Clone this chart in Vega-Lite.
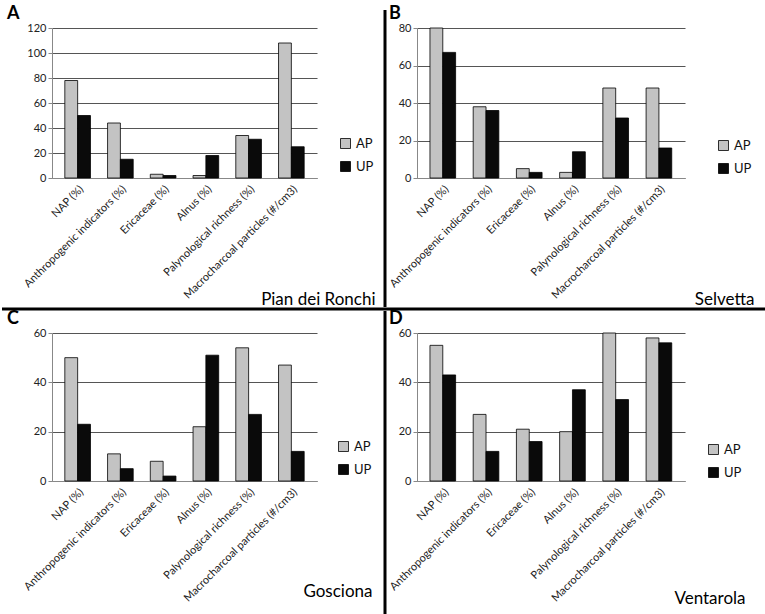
{
  "$schema": "https://vega.github.io/schema/vega-lite/v6.json",
  "background": "white",
  "padding": {"left": 0, "top": 5, "right": 0, "bottom": 0},
  "config": {
    "font": "Lato",
    "view": {"stroke": null},
    "axis": {"labelFont": "Lato", "labelFontSize": 11, "labelColor": "#222", "domainColor": "#888", "tickColor": "#888", "gridColor": "#555", "gridWidth": 1.2, "titleFont": "Lato", "titleFontSize": 17, "titleFontWeight": "normal", "titleColor": "black"},
    "axisX": {"labelFontSize": 11, "labelAngle": -45, "ticks": false, "labelPadding": 5},
    "legend": {"orient": "none", "title": null, "symbolType": "square", "symbolSize": 100, "symbolStrokeColor": "black", "symbolStrokeWidth": 0.8, "labelFont": "Lato", "labelFontSize": 13, "labelColor": "#111", "rowPadding": 8},
    "title": {"fontSize": 18, "fontWeight": "bold", "anchor": "start", "frame": "group", "color": "black", "offset": -1},
    "bar": {"stroke": "black", "strokeWidth": 0.8},
    "point": {"size": 0, "opacity": 0}
  },
  "datasets": {
    "pollen": [
      {"site": "Pian dei Ronchi", "indicator": "NAP (%)", "phase": "AP", "value": 78},
      {"site": "Pian dei Ronchi", "indicator": "NAP (%)", "phase": "UP", "value": 50},
      {"site": "Pian dei Ronchi", "indicator": "Anthropogenic indicators (%)", "phase": "AP", "value": 44},
      {"site": "Pian dei Ronchi", "indicator": "Anthropogenic indicators (%)", "phase": "UP", "value": 15},
      {"site": "Pian dei Ronchi", "indicator": "Ericaceae (%)", "phase": "AP", "value": 3},
      {"site": "Pian dei Ronchi", "indicator": "Ericaceae (%)", "phase": "UP", "value": 2},
      {"site": "Pian dei Ronchi", "indicator": "Alnus (%)", "phase": "AP", "value": 2},
      {"site": "Pian dei Ronchi", "indicator": "Alnus (%)", "phase": "UP", "value": 18},
      {"site": "Pian dei Ronchi", "indicator": "Palynological richness (%)", "phase": "AP", "value": 34},
      {"site": "Pian dei Ronchi", "indicator": "Palynological richness (%)", "phase": "UP", "value": 31},
      {"site": "Pian dei Ronchi", "indicator": "Macrocharcoal particles (#/cm3)", "phase": "AP", "value": 108},
      {"site": "Pian dei Ronchi", "indicator": "Macrocharcoal particles (#/cm3)", "phase": "UP", "value": 25},
      {"site": "Selvetta", "indicator": "NAP (%)", "phase": "AP", "value": 80},
      {"site": "Selvetta", "indicator": "NAP (%)", "phase": "UP", "value": 67},
      {"site": "Selvetta", "indicator": "Anthropogenic indicators (%)", "phase": "AP", "value": 38},
      {"site": "Selvetta", "indicator": "Anthropogenic indicators (%)", "phase": "UP", "value": 36},
      {"site": "Selvetta", "indicator": "Ericaceae (%)", "phase": "AP", "value": 5},
      {"site": "Selvetta", "indicator": "Ericaceae (%)", "phase": "UP", "value": 3},
      {"site": "Selvetta", "indicator": "Alnus (%)", "phase": "AP", "value": 3},
      {"site": "Selvetta", "indicator": "Alnus (%)", "phase": "UP", "value": 14},
      {"site": "Selvetta", "indicator": "Palynological richness (%)", "phase": "AP", "value": 48},
      {"site": "Selvetta", "indicator": "Palynological richness (%)", "phase": "UP", "value": 32},
      {"site": "Selvetta", "indicator": "Macrocharcoal particles (#/cm3)", "phase": "AP", "value": 48},
      {"site": "Selvetta", "indicator": "Macrocharcoal particles (#/cm3)", "phase": "UP", "value": 16},
      {"site": "Gosciona", "indicator": "NAP (%)", "phase": "AP", "value": 50},
      {"site": "Gosciona", "indicator": "NAP (%)", "phase": "UP", "value": 23},
      {"site": "Gosciona", "indicator": "Anthropogenic indicators (%)", "phase": "AP", "value": 11},
      {"site": "Gosciona", "indicator": "Anthropogenic indicators (%)", "phase": "UP", "value": 5},
      {"site": "Gosciona", "indicator": "Ericaceae (%)", "phase": "AP", "value": 8},
      {"site": "Gosciona", "indicator": "Ericaceae (%)", "phase": "UP", "value": 2},
      {"site": "Gosciona", "indicator": "Alnus (%)", "phase": "AP", "value": 22},
      {"site": "Gosciona", "indicator": "Alnus (%)", "phase": "UP", "value": 51},
      {"site": "Gosciona", "indicator": "Palynological richness (%)", "phase": "AP", "value": 54},
      {"site": "Gosciona", "indicator": "Palynological richness (%)", "phase": "UP", "value": 27},
      {"site": "Gosciona", "indicator": "Macrocharcoal particles (#/cm3)", "phase": "AP", "value": 47},
      {"site": "Gosciona", "indicator": "Macrocharcoal particles (#/cm3)", "phase": "UP", "value": 12},
      {"site": "Ventarola", "indicator": "NAP (%)", "phase": "AP", "value": 55},
      {"site": "Ventarola", "indicator": "NAP (%)", "phase": "UP", "value": 43},
      {"site": "Ventarola", "indicator": "Anthropogenic indicators (%)", "phase": "AP", "value": 27},
      {"site": "Ventarola", "indicator": "Anthropogenic indicators (%)", "phase": "UP", "value": 12},
      {"site": "Ventarola", "indicator": "Ericaceae (%)", "phase": "AP", "value": 21},
      {"site": "Ventarola", "indicator": "Ericaceae (%)", "phase": "UP", "value": 16},
      {"site": "Ventarola", "indicator": "Alnus (%)", "phase": "AP", "value": 20},
      {"site": "Ventarola", "indicator": "Alnus (%)", "phase": "UP", "value": 37},
      {"site": "Ventarola", "indicator": "Palynological richness (%)", "phase": "AP", "value": 60},
      {"site": "Ventarola", "indicator": "Palynological richness (%)", "phase": "UP", "value": 33},
      {"site": "Ventarola", "indicator": "Macrocharcoal particles (#/cm3)", "phase": "AP", "value": 58},
      {"site": "Ventarola", "indicator": "Macrocharcoal particles (#/cm3)", "phase": "UP", "value": 56}
    ],
    "sep": [{"sep": "line"}]
  },
  "resolve": {"legend": {"color": "independent"}},
  "columns": 5,
  "spacing": 0,
  "bounds": "flush",
  "concat": [
    {"width": 1, "height": 1, "data": {"name": "sep"}, "mark": "point"},
    {"width": 1, "height": 1, "data": {"name": "sep"}, "mark": "point"},
    {"width": 1, "height": 1, "data": {"name": "sep"}, "mark": "point"},
    {"width": 64, "height": 18, "data": {"name": "sep"}, "mark": {"type": "rule", "strokeWidth": 3, "color": "black"}, "encoding": {"x": {"field": "sep", "type": "nominal", "axis": null}}},
    {"width": 1, "height": 1, "data": {"name": "sep"}, "mark": "point"},

    {"width": 1, "height": 1, "data": {"name": "sep"}, "mark": "point"},
    {
      "title": {"text": "A", "dx": -45},
      "width": 265, "height": 150,
      "data": {"name": "pollen"},
      "transform": [{"filter": "datum.site === 'Pian dei Ronchi'"}],
      "mark": "bar",
      "encoding": {
        "x": {"field": "indicator", "type": "nominal", "sort": null, "scale": {"paddingInner": 0.4, "paddingOuter": 0.3},
          "axis": {"title": "Pian dei Ronchi", "titleAnchor": "end", "titleAlign": "right", "titleX": 323, "titleY": 126, "titleBaseline": "alphabetic"}},
        "xOffset": {"field": "phase", "sort": ["AP", "UP"]},
        "y": {"field": "value", "type": "quantitative", "scale": {"domain": [0, 120]}, "axis": {"title": null, "values": [0, 20, 40, 60, 80, 100, 120], "tickSize": 4}},
        "color": {"field": "phase", "scale": {"domain": ["AP", "UP"], "range": ["#c3c3c3", "#0a0a0a"]}, "legend": {"legendX": 287, "legendY": 109}}
      }
    },
    {"width": 36, "height": 1, "data": {"name": "sep"}, "mark": "point"},
    {"width": 64, "height": 279, "data": {"name": "sep"}, "mark": {"type": "rule", "strokeWidth": 3, "color": "black"}, "encoding": {"x": {"field": "sep", "type": "nominal", "axis": null}}},
    {
      "title": {"text": "B", "dx": -28},
      "width": 268, "height": 150,
      "data": {"name": "pollen"},
      "transform": [{"filter": "datum.site === 'Selvetta'"}],
      "mark": "bar",
      "encoding": {
        "x": {"field": "indicator", "type": "nominal", "sort": null, "scale": {"paddingInner": 0.4, "paddingOuter": 0.3},
          "axis": {"title": "Selvetta", "titleAnchor": "end", "titleAlign": "right", "titleX": 337, "titleY": 126, "titleBaseline": "alphabetic"}},
        "xOffset": {"field": "phase", "sort": ["AP", "UP"]},
        "y": {"field": "value", "type": "quantitative", "scale": {"domain": [0, 80]}, "axis": {"title": null, "values": [0, 20, 40, 60, 80], "tickSize": 4}},
        "color": {"field": "phase", "scale": {"domain": ["AP", "UP"], "range": ["#c3c3c3", "#0a0a0a"]}, "legend": {"legendX": 300, "legendY": 111}}
      }
    },

    {"width": 50, "height": 4, "data": {"name": "sep"}, "mark": {"type": "rule", "strokeWidth": 3, "color": "black"}, "encoding": {"y": {"field": "sep", "type": "nominal", "axis": null}}},
    {"width": 265, "height": 4, "data": {"name": "sep"}, "mark": {"type": "rule", "strokeWidth": 3, "color": "black"}, "encoding": {"y": {"field": "sep", "type": "nominal", "axis": null}}},
    {"width": 36, "height": 4, "data": {"name": "sep"}, "mark": {"type": "rule", "strokeWidth": 3, "color": "black"}, "encoding": {"y": {"field": "sep", "type": "nominal", "axis": null}}},
    {"width": 64, "height": 4, "data": {"name": "sep"}, "mark": {"type": "rule", "strokeWidth": 3, "color": "black"}, "encoding": {"y": {"field": "sep", "type": "nominal", "axis": null}}},
    {"width": 350, "height": 4, "data": {"name": "sep"}, "mark": {"type": "rule", "strokeWidth": 3, "color": "black"}, "encoding": {"y": {"field": "sep", "type": "nominal", "axis": null}}},

    {"width": 1, "height": 1, "data": {"name": "sep"}, "mark": "point"},
    {"width": 1, "height": 1, "data": {"name": "sep"}, "mark": "point"},
    {"width": 1, "height": 1, "data": {"name": "sep"}, "mark": "point"},
    {"width": 64, "height": 22, "data": {"name": "sep"}, "mark": {"type": "rule", "strokeWidth": 3, "color": "black"}, "encoding": {"x": {"field": "sep", "type": "nominal", "axis": null}}},
    {"width": 1, "height": 1, "data": {"name": "sep"}, "mark": "point"},

    {"width": 1, "height": 1, "data": {"name": "sep"}, "mark": "point"},
    {
      "title": {"text": "C", "dx": -45},
      "width": 265, "height": 148,
      "data": {"name": "pollen"},
      "transform": [{"filter": "datum.site === 'Gosciona'"}],
      "mark": "bar",
      "encoding": {
        "x": {"field": "indicator", "type": "nominal", "sort": null, "scale": {"paddingInner": 0.4, "paddingOuter": 0.3},
          "axis": {"title": "Gosciona", "titleAnchor": "end", "titleAlign": "right", "titleX": 320, "titleY": 115, "titleBaseline": "alphabetic"}},
        "xOffset": {"field": "phase", "sort": ["AP", "UP"]},
        "y": {"field": "value", "type": "quantitative", "scale": {"domain": [0, 60]}, "axis": {"title": null, "values": [0, 20, 40, 60], "tickSize": 4}},
        "color": {"field": "phase", "scale": {"domain": ["AP", "UP"], "range": ["#c3c3c3", "#0a0a0a"]}, "legend": {"legendX": 285, "legendY": 107}}
      }
    },
    {"width": 36, "height": 1, "data": {"name": "sep"}, "mark": "point"},
    {"width": 64, "height": 281, "data": {"name": "sep"}, "mark": {"type": "rule", "strokeWidth": 3, "color": "black"}, "encoding": {"x": {"field": "sep", "type": "nominal", "axis": null}}},
    {
      "title": {"text": "D", "dx": -28},
      "width": 268, "height": 148,
      "data": {"name": "pollen"},
      "transform": [{"filter": "datum.site === 'Ventarola'"}],
      "mark": "bar",
      "encoding": {
        "x": {"field": "indicator", "type": "nominal", "sort": null, "scale": {"paddingInner": 0.4, "paddingOuter": 0.3},
          "axis": {"title": "Ventarola", "titleAnchor": "end", "titleAlign": "right", "titleX": 328, "titleY": 122, "titleBaseline": "alphabetic"}},
        "xOffset": {"field": "phase", "sort": ["AP", "UP"]},
        "y": {"field": "value", "type": "quantitative", "scale": {"domain": [0, 60]}, "axis": {"title": null, "values": [0, 20, 40, 60], "tickSize": 4}},
        "color": {"field": "phase", "scale": {"domain": ["AP", "UP"], "range": ["#c3c3c3", "#0a0a0a"]}, "legend": {"legendX": 290, "legendY": 110}}
      }
    }
  ]
}
